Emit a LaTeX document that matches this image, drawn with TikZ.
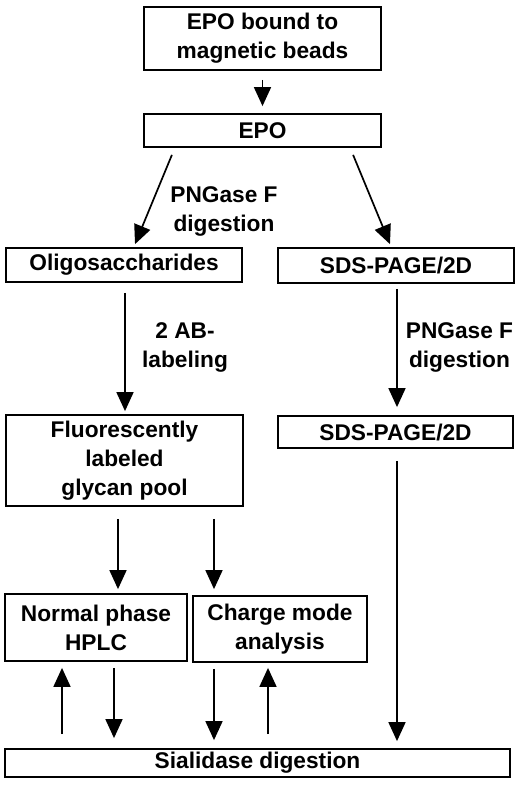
\documentclass[tikz,border=0pt]{standalone}
\usepackage{fontspec}
\setmainfont{Liberation Sans}
\usetikzlibrary{arrows.meta}
\begin{document}
\begin{tikzpicture}[x=1pt,y=-1pt,
  box/.style={draw,line width=1.8pt,inner sep=0pt,align=center,
    font=\bfseries\fontsize{22.7}{29}\selectfont},
  lbl/.style={inner sep=0pt,align=center,font=\bfseries\fontsize{22.7}{29}\selectfont},
  arr/.style={line width=1.7pt,-{Triangle[width=17pt,length=19pt]}}]
\useasboundingbox (0,0) rectangle (520,791);
% boxes
\node[box,minimum width=237pt,minimum height=63pt] (beads) at (262.5,38.5) {EPO bound to\\magnetic beads};
\node[box,minimum width=237pt,minimum height=33pt] (epo) at (262.5,130.5) {EPO};
\node[box,minimum width=236pt,minimum height=34pt] (oligo) at (124,265) {Oligosaccharides};
\node[box,minimum width=236pt,minimum height=35pt] (sdsa) at (396,265.5) {SDS-PAGE/2D};
\node[box,minimum width=237pt,minimum height=91pt] (fluor) at (124.5,460.5) {Fluorescently\\labeled\\glycan pool};
\node[box,minimum width=235pt,minimum height=32pt] (sdsb) at (395.5,432) {SDS-PAGE/2D};
\node[box,minimum width=182pt,minimum height=67pt] (normal) at (96,627.5) {Normal phase\\HPLC};
\node[box,minimum width=174pt,minimum height=66pt] (charge) at (280,629) {Charge mode\\analysis};
\node[box,minimum width=505pt,minimum height=28pt] (sial) at (257.5,763) {Sialidase digestion};
% labels
\node[lbl] (l1) at (224,211) {PNGase F\\digestion};
\node[lbl] (l2) at (185,347) {2 AB-\\labeling};
\node[lbl] (l3) at (459.5,347) {PNGase F\\digestion};
% column coordinates
\coordinate (c62) at (62,0);
\coordinate (c114) at (114,0);
\coordinate (c118) at (118,0);
\coordinate (c125) at (125,0);
\coordinate (c214) at (214,0);
\coordinate (c268) at (268,0);
\coordinate (c397) at (397,0);
% connectors
\draw[arr,shorten <=9pt,shorten >=7pt] (beads.south) -- (epo.north);
\draw[arr,shorten <=7.5pt,shorten >=3.2pt] ([xshift=-87.7pt]epo.south) -- ([xshift=9.8pt]oligo.north);
\draw[arr,shorten <=7.5pt,shorten >=3.2pt] ([xshift=87.7pt]epo.south) -- ([xshift=-4.8pt]sdsa.north);
\draw[arr,shorten <=10pt,shorten >=3pt] (oligo.south -| c125) -- (fluor.north -| c125);
\draw[arr,shorten <=5pt,shorten >=8pt] (sdsa.south -| c397) -- (sdsb.north -| c397);
\draw[arr,shorten <=12pt,shorten >=7pt] (sdsb.south -| c397) -- (sial.north -| c397);
\draw[arr,shorten <=12pt,shorten >=4pt] (fluor.south -| c118) -- (normal.north -| c118);
\draw[arr,shorten <=12pt,shorten >=6pt] (fluor.south -| c214) -- (charge.north -| c214);
\draw[arr,shorten <=14pt,shorten >=6pt] (sial.north -| c62) -- (normal.south -| c62);
\draw[arr,shorten <=6pt,shorten >=10pt] (normal.south -| c114) -- (sial.north -| c114);
\draw[arr,shorten <=6pt,shorten >=8pt] (charge.south -| c214) -- (sial.north -| c214);
\draw[arr,shorten <=14pt,shorten >=5pt] (sial.north -| c268) -- (charge.south -| c268);
\end{tikzpicture}
\end{document}
